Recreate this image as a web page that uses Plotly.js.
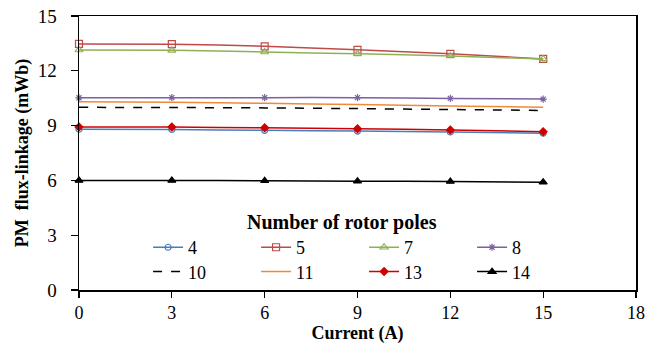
<!DOCTYPE html>
<html>
<head>
<meta charset="utf-8">
<script src="https://cdn.plot.ly/plotly-3.0.1.min.js"></script>
<style>html,body{margin:0;padding:0;background:#fff;}#chart{width:660px;height:345px;}</style>
</head>
<body>
<div id="chart"></div>
<script>
const current = [0, 3, 6, 9, 12, 15];
const poles = ["4", "5", "7", "8", "10", "11", "13", "14"];
const flux4  = [8.80, 8.79, 8.74, 8.70, 8.65, 8.58];
const flux5  = [13.47, 13.46, 13.34, 13.15, 12.93, 12.65];
const flux7  = [13.14, 13.12, 13.03, 12.93, 12.81, 12.65];
const flux8  = [10.52, 10.53, 10.53, 10.53, 10.49, 10.45];
const flux10 = [10.00, 9.99, 9.97, 9.93, 9.88, 9.83];
const flux11 = [10.31, 10.28, 10.22, 10.15, 10.07, 10.00];
const flux13 = [8.93, 8.92, 8.88, 8.83, 8.76, 8.67];
const flux14 = [6.00, 6.00, 5.98, 5.96, 5.94, 5.90];

const seriesValues = [flux4, flux5, flux7, flux8, flux10, flux11, flux13, flux14];
const colors = ["#4A7EBB", "#BE4B48", "#8DB255", "#7D60A0", "#000000", "#F08A3A", "#D00000", "#000000"];
const symbols = ["circle-open", "square-open", "triangle-up-open", "asterisk-open", null, null, "diamond", "triangle-up"];
const sizes = [6, 7, 7, 6, 0, 0, 6, 7];
const dashes = ["solid", "solid", "solid", "solid", "dash", "solid", "solid", "solid"];

const traces = poles.map((p, i) => {
  const t = {
    x: current, y: seriesValues[i], name: p, type: "scatter",
    mode: symbols[i] ? "lines+markers" : "lines",
    cliponaxis: false,
    line: {color: colors[i], width: 1.5, dash: dashes[i], shape: "spline", smoothing: 0.6},
    legend: i < 4 ? "legend" : "legend2"
  };
  if (symbols[i]) {
    t.marker = {symbol: symbols[i], size: sizes[i], color: colors[i], line: {color: colors[i], width: 1.2}};
  }
  return t;
});

const fam = "Liberation Serif";
const legendCommon = {
  orientation: "h", xanchor: "left", yanchor: "middle",
  entrywidth: 63, entrywidthmode: "pixels",
  font: {family: fam, size: 18, color: "#000"},
  bgcolor: "rgba(0,0,0,0)", borderwidth: 0, traceorder: "normal"
};

const layout = {
  width: 660, height: 345,
  margin: {l: 79, r: 24, t: 16, b: 55},
  paper_bgcolor: "#fff", plot_bgcolor: "#fff",
  font: {family: fam, size: 18, color: "#000"},
  showlegend: true,
  xaxis: {
    range: [0, 18], dtick: 3, tick0: 0, ticks: "outside", ticklen: 6, tickwidth: 1.2, tickcolor: "#000",
    showline: true, linecolor: "#000", linewidth: 1.5, mirror: true, showgrid: false, zeroline: false,
    tickfont: {family: fam, size: 18, color: "#000"}, ticklabelstandoff: 0,
    title: {text: "<b>Current (A)</b>", font: {family: fam, size: 18, color: "#000"}, standoff: 3}
  },
  yaxis: {
    range: [0, 15], dtick: 3, tick0: 0, ticks: "outside", ticklen: 7, tickwidth: 1.2, tickcolor: "#000",
    showline: true, linecolor: "#000", linewidth: 1.5, mirror: true, showgrid: false, zeroline: false,
    tickfont: {family: fam, size: 19, color: "#000"}, ticklabelstandoff: 10,
    title: {text: "<b>PM  flux-linkage (mWb)</b>", font: {family: fam, size: 18, color: "#000"}, standoff: 4}
  },
  legend: Object.assign({}, legendCommon, {x: 0.124, y: 0.155}),
  legend2: Object.assign({}, legendCommon, {x: 0.124, y: 0.066}),
  annotations: [{
    text: "<b>Number of rotor poles</b>", xref: "paper", yref: "paper",
    x: 0.472, y: 0.245, xanchor: "center", yanchor: "middle", showarrow: false,
    font: {family: fam, size: 20, color: "#000"}
  }]
};

Plotly.newPlot("chart", traces, layout, {displayModeBar: false, staticPlot: true});
</script>
</body>
</html>
